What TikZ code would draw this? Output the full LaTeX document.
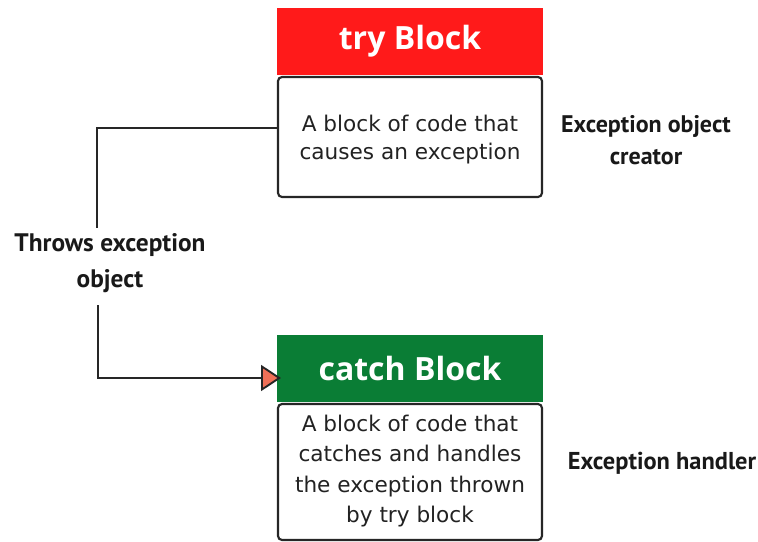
\documentclass[tikz,border=0pt]{standalone}
\usepackage{fontspec}
\setmainfont{PT Sans}
\newfontfamily\headfont{Open Sans}
\newfontfamily\bodyfont{DejaVu Sans}
\usetikzlibrary{arrows.meta}
\definecolor{tryred}{HTML}{FF1A1A}
\definecolor{catchgreen}{HTML}{0A7D35}
\definecolor{tipfill}{HTML}{F07058}
\definecolor{bodytext}{HTML}{222222}
\tikzset{
  header/.style={minimum width=266*0.75pt, minimum height=67*0.75pt, inner sep=0pt, text=white, font=\headfont\bfseries\fontsize{24}{28}\selectfont},
  bodybox/.style={draw=black!85, line width=1.6pt, rounded corners=3pt, fill=white, minimum width=264*0.75pt, inner sep=0pt, align=center, text=bodytext},
  bodytxt/.style={align=center, text=bodytext, inner sep=0pt},
  sidelabel/.style={align=center, text=black!90},
  conn/.style={draw=black!85, line width=1.4pt}
}
\begin{document}
\begin{tikzpicture}[x=0.75pt,y=-0.75pt]
\useasboundingbox (0,0) rectangle (758,542);
% try block
\node[header, fill=tryred] (tryh) at (410,41.5) {try Block};
\node[bodybox, minimum height=120*0.75pt] (tryb) at (410,137) {};
\node[bodytxt, font=\bodyfont\fontsize{16.2}{21}\selectfont] (trytxt) at (410,140) {A block of code that\\causes an exception};
% catch block
\node[header, fill=catchgreen] (catchh) at (410,368.5) {catch Block};
\node[bodybox, minimum height=136*0.75pt] (catchb) at (410,472) {};
\node[bodytxt, font=\bodyfont\fontsize{16.2}{22.6}\selectfont] (catchtxt) at (410,471) {A block of code that\\catches and handles\\the exception thrown\\by try block};
% side labels
\node[sidelabel, font=\bfseries\fontsize{18}{23.5}\selectfont] (creator) at (646,140) {Exception object\\creator};
\node[sidelabel, font=\bfseries\fontsize{18.3}{23}\selectfont] (handler) at (662,463) {Exception handler};
\node[sidelabel, font=\bfseries\fontsize{19}{26.5}\selectfont] (throws) at (110,263) {Throws exception\\object};
% connector
\coordinate (c1) at (97,128);
\coordinate (c2) at (97,228);
\coordinate (c3) at (98,305);
\coordinate (c4) at (98,378);
\coordinate (c5) at (281,378);
\draw[conn] (tryb.west |- c1) -- (c1) -- (c2);
\draw[conn, -{Triangle[length=20*0.75pt, width=26*0.75pt, fill=tipfill, line width=1.4pt]}] (c3) -- (c4) -- (c5);
\end{tikzpicture}
\end{document}
